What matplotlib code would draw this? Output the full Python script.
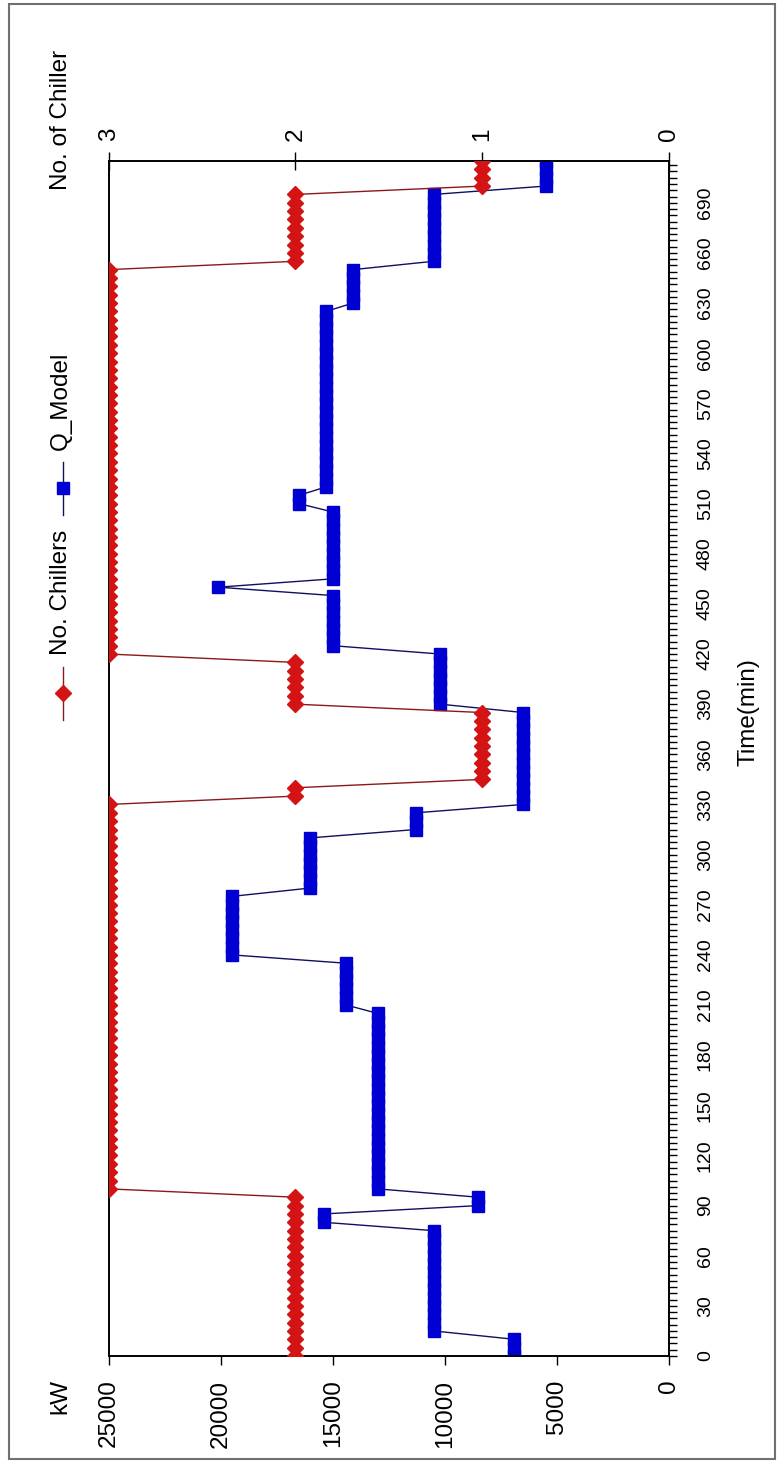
import matplotlib
matplotlib.use('Agg')
import matplotlib.pyplot as plt
import numpy as np
from matplotlib.ticker import AutoMinorLocator
from matplotlib.patches import Rectangle
from matplotlib.lines import Line2D

plt.rcParams['font.family'] = ['Liberation Sans', 'DejaVu Sans']

# samples every 5 minutes
time_min = np.arange(0, 720, 5)

# Q_Model (kW): level and how many 5-min samples it holds
q_model_kw = [6900, 10500, 15400, 8500, 13000, 14400, 19500, 16000, 11300, 6500,
              10200, 15000, 20100, 15000, 16500, 15300, 14100, 10500, 5500]
q_model_points = [3, 13, 2, 2, 22, 6, 8, 7, 3, 12, 7, 7, 1, 9, 2, 22, 5, 9, 4]

# number of chillers running
chillers = [2, 3, 2, 1, 2, 3, 2, 1]
chiller_points = [20, 47, 2, 9, 6, 47, 9, 4]

kw_ticks = [25000, 20000, 15000, 10000, 5000, 0]
chiller_ticks = [3, 2, 1, 0]
time_ticks = [0, 30, 60, 90, 120, 150, 180, 210, 240, 270, 300, 330, 360, 390,
              420, 450, 480, 510, 540, 570, 600, 630, 660, 690]

q_model = np.repeat(q_model_kw, q_model_points)
n_chill = np.repeat(chillers, chiller_points)

W, H = 781, 1461
RED, RED_LINE = '#d41414', '#8a1a1a'
BLUE, BLUE_LINE = '#0000d2', '#101060'
FS = 17.5

fig = plt.figure(figsize=(W / 100, H / 100), dpi=100)
ax = fig.add_axes([108.6 / W, 105 / H, 560.4 / W, 1195 / H])

ax.plot(q_model, time_min, color=BLUE_LINE, lw=1, marker='s', ms=8,
        mfc=BLUE, mec=BLUE, zorder=3)
ax.set_xlim(25000, 0)
ax.set_ylim(0, 715)

ax.set_xticks(kw_ticks)
ax.set_xticklabels([str(v) for v in kw_ticks], rotation=90)
ax.tick_params(axis='x', direction='out', length=6.5, width=1, pad=10.5, labelsize=FS)

ax.yaxis.tick_right()
ax.set_yticks(time_ticks)
ax.set_yticklabels([str(v) for v in time_ticks], rotation=90, va='center')
ax.yaxis.set_minor_locator(AutoMinorLocator(8))
ax.tick_params(axis='y', which='both', direction='out', length=6, width=1, pad=14, labelsize=14)

ax2 = ax.twiny()
ax2.plot(n_chill, time_min, color=RED_LINE, lw=1, marker='D', ms=8.5,
         mfc=RED, mec=RED, zorder=4)
ax2.set_xlim(3, 0)
ax2.set_xticks(chiller_ticks)
ax2.set_xticklabels([str(v) for v in chiller_ticks], rotation=90)
ax2.tick_params(axis='x', direction='inout', length=13, width=1, pad=8, labelsize=FS)

for a in (ax, ax2):
    for s in a.spines.values():
        s.set_linewidth(1.2)

# axis titles
fig.text(60 / W, 1 - 1396 / H, 'kW', rotation=90, ha='center', va='center', fontsize=FS)
fig.text(61 / W, 1 - 120 / H, 'No. of Chiller', rotation=90, ha='center', va='center', fontsize=FS)
fig.text(749 / W, 1 - 712 / H, 'Time(min)', rotation=90, ha='center', va='center', fontsize=FS)

# legend, drawn by hand because it is rotated
fig.add_artist(Line2D([63 / W] * 2, [1 - 720 / H, 1 - 667 / H], color=RED_LINE, lw=1))
fig.add_artist(Line2D([63 / W], [1 - 693 / H], marker='D', ms=8.5, mfc=RED, mec=RED, lw=0))
fig.text(61 / W, 1 - 655 / H, 'No. Chillers', rotation=90, ha='center', va='bottom', fontsize=FS)
fig.add_artist(Line2D([63 / W] * 2, [1 - 515 / H, 1 - 462 / H], color=BLUE_LINE, lw=1))
fig.add_artist(Line2D([63 / W], [1 - 488 / H], marker='s', ms=8, mfc=BLUE, mec=BLUE, lw=0))
fig.text(61 / W, 1 - 450 / H, 'Q_Model', rotation=90, ha='center', va='bottom', fontsize=FS)

# outer frame
fig.add_artist(Rectangle((9 / W, 2 / H), 766 / W, 1455 / H, transform=fig.transFigure,
                         fill=False, edgecolor='#707070', lw=1.5))

fig.savefig('out.png', dpi=100)
